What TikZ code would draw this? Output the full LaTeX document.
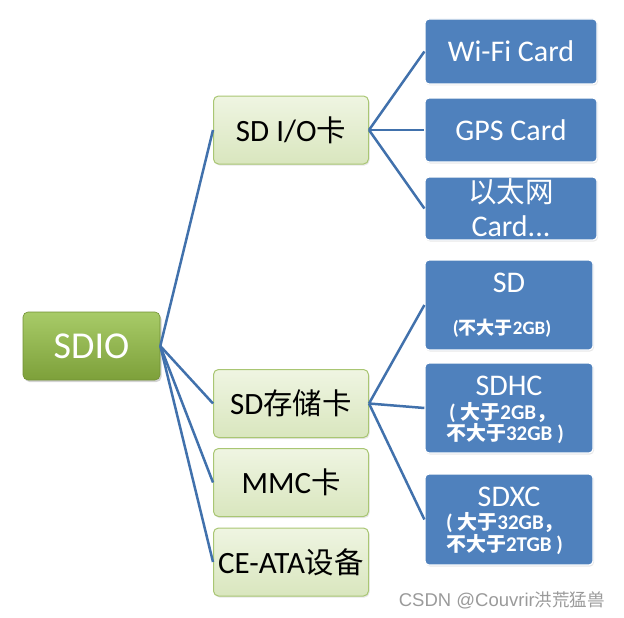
\documentclass[tikz,border=0pt]{standalone}
\usepackage{fontspec}
\setmainfont{Carlito}
\newfontfamily\cjk[Scale=0.95]{Noto Sans CJK SC}
\newfontfamily\wmfont{Liberation Sans}
\usetikzlibrary{shadows}
\definecolor{linec}{HTML}{4171AC}
\definecolor{bluebox}{HTML}{4F81BD}
\definecolor{greentop}{HTML}{A8CB68}
\definecolor{greenbot}{HTML}{7DA03A}
\definecolor{lgtop}{HTML}{EFF5E2}
\definecolor{lgbot}{HTML}{D9E6BE}
\definecolor{lgborder}{HTML}{A9C673}
\definecolor{wmgray}{HTML}{9A9A9A}
\tikzset{
  conn/.style={draw=linec, line width=2.5pt},
  rootbox/.style={rounded corners=5pt, top color=greentop, bottom color=greenbot, draw=greenbot!90!black, line width=0.6pt,
    minimum width=137pt, minimum height=68pt, inner sep=0pt, text=white,
    font=\fontsize{38}{42}\selectfont, drop shadow={opacity=0.35, shadow xshift=1.5pt, shadow yshift=-2pt}},
  midbox/.style={rounded corners=5pt, top color=lgtop, bottom color=lgbot, draw=lgborder, line width=1pt,
    minimum width=155pt, minimum height=68pt, inner sep=0pt, text=black,
    font=\fontsize{31}{35}\selectfont, drop shadow={opacity=0.2, shadow xshift=1pt, shadow yshift=-1.5pt}},
  leafbox/.style={rounded corners=4pt, fill=bluebox, draw=white, line width=1.2pt,
    minimum width=172pt, inner sep=0pt, text=white,
    drop shadow={opacity=0.18, shadow xshift=1pt, shadow yshift=-1.5pt}},
  leaftext/.style={text=white, inner sep=0pt, font=\fontsize{30}{33}\selectfont},
  subtext/.style={text=white, inner sep=0pt, font=\bfseries\fontsize{21}{24}\selectfont},
}
\begin{document}
\begin{tikzpicture}[x=1pt,y=-1pt]
\useasboundingbox (0,0) rectangle (624,618);
% root
\node[rootbox] (sdio) at (91.5,346) {SDIO};
% middle
\node[midbox] (sdio_card) at (291,130) {SD I/O{\cjk 卡}};
\node[midbox] (mem) at (291,403.5) {SD{\cjk 存储卡}};
\node[midbox] (mmc) at (291,482.5) {MMC{\cjk 卡}};
\node[midbox] (ceata) at (291,562) {CE-ATA{\cjk 设备}};
% leaves
\node[leafbox, minimum height=65pt] (wifi) at (511,51.5) {};
\node[leaftext] (wifit) at (511,51.5) {Wi-Fi Card};
\node[leafbox, minimum height=64pt] (gps) at (511,130) {};
\node[leaftext] (gpst) at (511,130) {GPS Card};
\node[leafbox, minimum height=63pt] (eth) at (511,208.5) {};
\node[leaftext] (etht1) at (511,192) {\cjk 以太网};
\node[leaftext] (etht2) at (511,226) {Card...};
\node[leafbox, minimum width=168pt, minimum height=90pt] (sd) at (509,305) {};
\node[leaftext] (sdt1) at (509,283) {SD};
\node[subtext, font=\bfseries\fontsize{19}{22}\selectfont] (sdt2) at (502,328) {({\cjk 不大于}2GB)};
\node[leafbox, minimum width=168pt, minimum height=90pt] (sdhc) at (509,408) {};
\node[leaftext] (sdhct1) at (509,386) {SDHC};
\node[subtext, anchor=west] (sdhct2) at (449,413) {( {\cjk 大于}2GB{\cjk ，}};
\node[subtext, anchor=west] (sdhct3) at (446,434) {{\cjk 不大于}32GB )};
\node[leafbox, minimum width=168pt, minimum height=91pt] (sdxc) at (509,519.5) {};
\node[leaftext] (sdxct1) at (509,497) {SDXC};
\node[subtext, anchor=west] (sdxct2) at (446,523) {( {\cjk 大于}32GB{\cjk ，}};
\node[subtext, anchor=west] (sdxct3) at (446,545) {{\cjk 不大于}2TGB )};
% connectors
\draw[conn] (sdio.east) -- (sdio_card.west);
\draw[conn] (sdio.east) -- (mem.west);
\draw[conn] (sdio.east) -- (mmc.west);
\draw[conn] (sdio.east) -- (ceata.west);
\draw[conn] (sdio_card.east) -- (wifi.west);
\draw[conn] (sdio_card.east) -- (gps.west);
\draw[conn] (sdio_card.east) -- (eth.west);
\draw[conn] (mem.east) -- (sd.west);
\draw[conn] (mem.east) -- (sdhc.west);
\draw[conn] (mem.east) -- (sdxc.west);
% watermark
\node[text=wmgray, inner sep=0pt, font=\wmfont\fontsize{18.5}{20}\selectfont] (wm) at (502,600) {CSDN @Couvrir{\cjk 洪荒猛兽}};
\end{tikzpicture}
\end{document}
